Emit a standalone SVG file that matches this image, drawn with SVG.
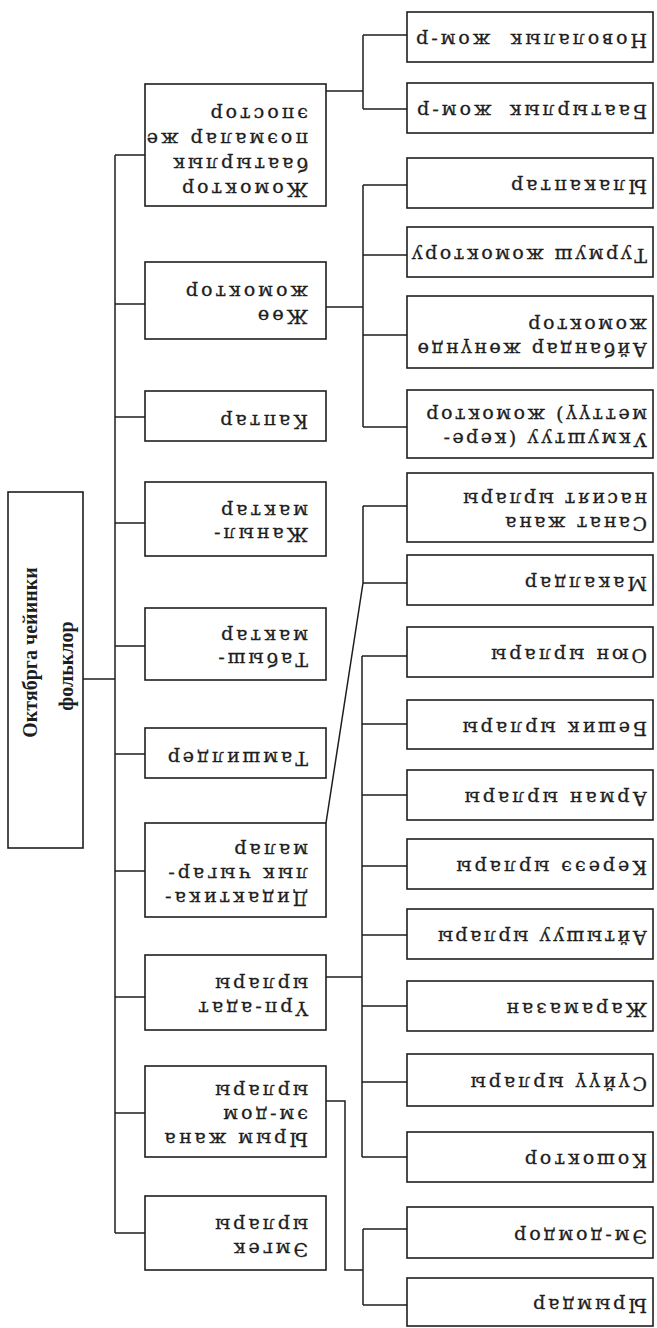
<svg xmlns="http://www.w3.org/2000/svg" width="657" height="1328" viewBox="0 0 657 1328">
  <style>
    .box { fill: #fff; stroke: #1e1e1e; stroke-width: 1.6; }
    .wire { fill: none; stroke: #1e1e1e; stroke-width: 1.5; }
    .t { font-family: "DejaVu Serif", "Liberation Serif", serif; font-size: 19px; letter-spacing: 3px; fill: #1e1e1e; stroke: #1e1e1e; stroke-width: 0.3; }
    .t2 { letter-spacing: 2.5px; }
    .root { font-family: "Liberation Serif", "DejaVu Serif", serif; font-weight: bold; font-size: 20px; fill: #1e1e1e; text-anchor: middle; }
  </style>
  <rect width="657" height="1328" fill="#fff"/>

  <!-- connectors -->
  <g id="connectors" class="wire">
    <!-- root to trunk -->
    <path d="M83 679 H115"/>
    <path d="M115 155 V1233"/>
    <path d="M115 155 H145 M115 304 H145 M115 417 H145 M115 523 H145 M115 646 H145 M115 754 H145 M115 871 H145 M115 997 H145 M115 1113 H145 M115 1233 H145"/>
    <!-- epic tales branch -->
    <path d="M326 91 H363 M363 35 V109 M363 35 H407 M363 109 H407"/>
    <!-- prose tales branch -->
    <path d="M326 307 H363 M363 185 V427 M363 185 H407 M363 255 H407 M363 335 H407 M363 427 H407"/>
    <!-- didactic branch -->
    <path d="M326 823 L363 583 M363 506 V583 M363 506 H407 M363 583 H407"/>
    <!-- ritual songs branch -->
    <path d="M326 977 H362 M362 656 V1157 M362 656 H407 M362 724 H407 M362 795 H407 M362 866 H407 M362 935 H407 M362 1006 H407 M362 1082 H407 M362 1157 H407"/>
    <!-- charms branch -->
    <path d="M326 1101 H345 V1270 H363 M363 1229 V1305 M363 1229 H407 M363 1305 H407"/>
  </g>

  <!-- root -->
  <g id="root">
    <rect class="box" x="8" y="492" width="75" height="356"/>
    <text class="root" transform="translate(45 670) rotate(-90)">
      <tspan x="20" y="-8">Октябрга чейинки</tspan>
      <tspan x="4" y="28">фольклор</tspan>
    </text>
  </g>

  <!-- first level -->
  <g id="n-zhomoktor" transform="rotate(180 235.5 145)">
    <rect class="box" x="145" y="84" width="181" height="122"/>
    <text class="t"><tspan x="163" y="107">Жомоктор</tspan><tspan x="163" y="132">баатырлык</tspan><tspan x="163" y="157">поэмалар же</tspan><tspan x="163" y="182">эпостор</tspan></text>
  </g>
  <g id="n-zhoo" transform="rotate(180 235.5 300.5)">
    <rect class="box" x="145" y="262" width="181" height="77"/>
    <text class="t"><tspan x="163" y="291">Жөө</tspan><tspan x="163" y="315">жомоктор</tspan></text>
  </g>
  <g id="n-kaptar" transform="rotate(180 235.5 416)">
    <rect class="box" x="145" y="391" width="181" height="50"/>
    <text class="t" x="163" y="417">Каптар</text>
  </g>
  <g id="n-zhanyl" transform="rotate(180 235.5 519)">
    <rect class="box" x="145" y="482" width="181" height="74"/>
    <text class="t"><tspan x="163" y="510">Жаныл-</tspan><tspan x="163" y="533">мактар</tspan></text>
  </g>
  <g id="n-tabysh" transform="rotate(180 235.5 644)">
    <rect class="box" x="145" y="608" width="181" height="72"/>
    <text class="t"><tspan x="163" y="635">Табыш-</tspan><tspan x="163" y="658">мактар</tspan></text>
  </g>
  <g id="n-tamshil" transform="rotate(180 235.5 753)">
    <rect class="box" x="145" y="728" width="181" height="50"/>
    <text class="t" x="163" y="754">Тамшилдер</text>
  </g>
  <g id="n-didaktika" transform="rotate(180 235.5 870)">
    <rect class="box" x="145" y="823" width="181" height="94"/>
    <text class="t"><tspan x="163" y="848">Дидактика-</tspan><tspan x="163" y="872">лык чыгар-</tspan><tspan x="163" y="896">малар</tspan></text>
  </g>
  <g id="n-urp" transform="rotate(180 235.5 992.5)">
    <rect class="box" x="145" y="955" width="181" height="75"/>
    <text class="t"><tspan x="163" y="983">Үрп-адат</tspan><tspan x="163" y="1007">ырлары</tspan></text>
  </g>
  <g id="n-yrym" transform="rotate(180 235.5 1111.5)">
    <rect class="box" x="145" y="1066" width="181" height="91"/>
    <text class="t"><tspan x="163" y="1090">Ырым жана</tspan><tspan x="163" y="1114">эм-дом</tspan><tspan x="163" y="1138">ырлары</tspan></text>
  </g>
  <g id="n-emgek" transform="rotate(180 235.5 1233)">
    <rect class="box" x="145" y="1196" width="181" height="74"/>
    <text class="t"><tspan x="163" y="1223">Эмгек</tspan><tspan x="163" y="1247">ырлары</tspan></text>
  </g>

  <!-- second level -->
  <g id="n-novolalyk" transform="rotate(180 530 37)">
    <rect class="box" x="407" y="12" width="246" height="50"/>
    <text class="t" x="413" y="40" word-spacing="8">Новолалык жом-р</text>
  </g>
  <g id="n-baatyrlyk" transform="rotate(180 530 108)">
    <rect class="box" x="407" y="83" width="246" height="50"/>
    <text class="t" x="413" y="111" word-spacing="6">Баатырлык жом-р</text>
  </g>
  <g id="n-ylakaptar" transform="rotate(180 530 183)">
    <rect class="box" x="407" y="158" width="246" height="50"/>
    <text class="t" x="413" y="186">Ылакаптар</text>
  </g>
  <g id="n-turmush" transform="rotate(180 530 252)">
    <rect class="box" x="407" y="227" width="246" height="50"/>
    <text class="t t2" x="413" y="255">Турмуш жомоктору</text>
  </g>
  <g id="n-aibandar" transform="rotate(180 530 332)">
    <rect class="box" x="407" y="296" width="246" height="72"/>
    <text class="t t2"><tspan x="413" y="321">Айбандар жөнүндө</tspan><tspan x="413" y="345">жомоктор</tspan></text>
  </g>
  <g id="n-ukmushtuu" transform="rotate(180 530 424)">
    <rect class="box" x="407" y="390" width="246" height="68"/>
    <text class="t t2"><tspan x="413" y="415">Укмуштуу (кере-</tspan><tspan x="413" y="439">меттүү) жомоктор</tspan></text>
  </g>
  <g id="n-sanat" transform="rotate(180 530 507.5)">
    <rect class="box" x="407" y="473" width="246" height="69"/>
    <text class="t t2"><tspan x="413" y="498">Санат жана</tspan><tspan x="413" y="522">насият ырлары</tspan></text>
  </g>
  <g id="n-makaldar" transform="rotate(180 530 580)">
    <rect class="box" x="407" y="555" width="246" height="50"/>
    <text class="t" x="413" y="583">Макалдар</text>
  </g>
  <g id="n-oyun" transform="rotate(180 530 652)">
    <rect class="box" x="407" y="627" width="246" height="50"/>
    <text class="t" x="413" y="655">Оюн ырлары</text>
  </g>
  <g id="n-beshik" transform="rotate(180 530 724.5)">
    <rect class="box" x="407" y="700" width="246" height="49"/>
    <text class="t" x="413" y="727.5">Бешик ырлары</text>
  </g>
  <g id="n-arman" transform="rotate(180 530 795)">
    <rect class="box" x="407" y="770" width="246" height="50"/>
    <text class="t" x="413" y="798">Арман ырлары</text>
  </g>
  <g id="n-kereee" transform="rotate(180 530 864)">
    <rect class="box" x="407" y="839" width="246" height="50"/>
    <text class="t" x="413" y="867">Кереээ ырлары</text>
  </g>
  <g id="n-aitysh" transform="rotate(180 530 934)">
    <rect class="box" x="407" y="909" width="246" height="50"/>
    <text class="t t2" x="413" y="937">Айтышуу ырлары</text>
  </g>
  <g id="n-zharamazan" transform="rotate(180 530 1006)">
    <rect class="box" x="407" y="981" width="246" height="50"/>
    <text class="t" x="413" y="1009">Жарамазан</text>
  </g>
  <g id="n-suyuu" transform="rotate(180 530 1080)">
    <rect class="box" x="407" y="1054" width="246" height="52"/>
    <text class="t" x="413" y="1083">Сүйүү ырлары</text>
  </g>
  <g id="n-koshok" transform="rotate(180 530 1157)">
    <rect class="box" x="407" y="1132" width="246" height="50"/>
    <text class="t" x="413" y="1160">Кошоктор</text>
  </g>
  <g id="n-emdom" transform="rotate(180 530 1232.5)">
    <rect class="box" x="407" y="1207" width="246" height="51"/>
    <text class="t" x="413" y="1235.5">Эм-домдор</text>
  </g>
  <g id="n-yrymdar" transform="rotate(180 530 1302)">
    <rect class="box" x="407" y="1278" width="246" height="48"/>
    <text class="t" x="413" y="1305">Ырымдар</text>
  </g>
</svg>
